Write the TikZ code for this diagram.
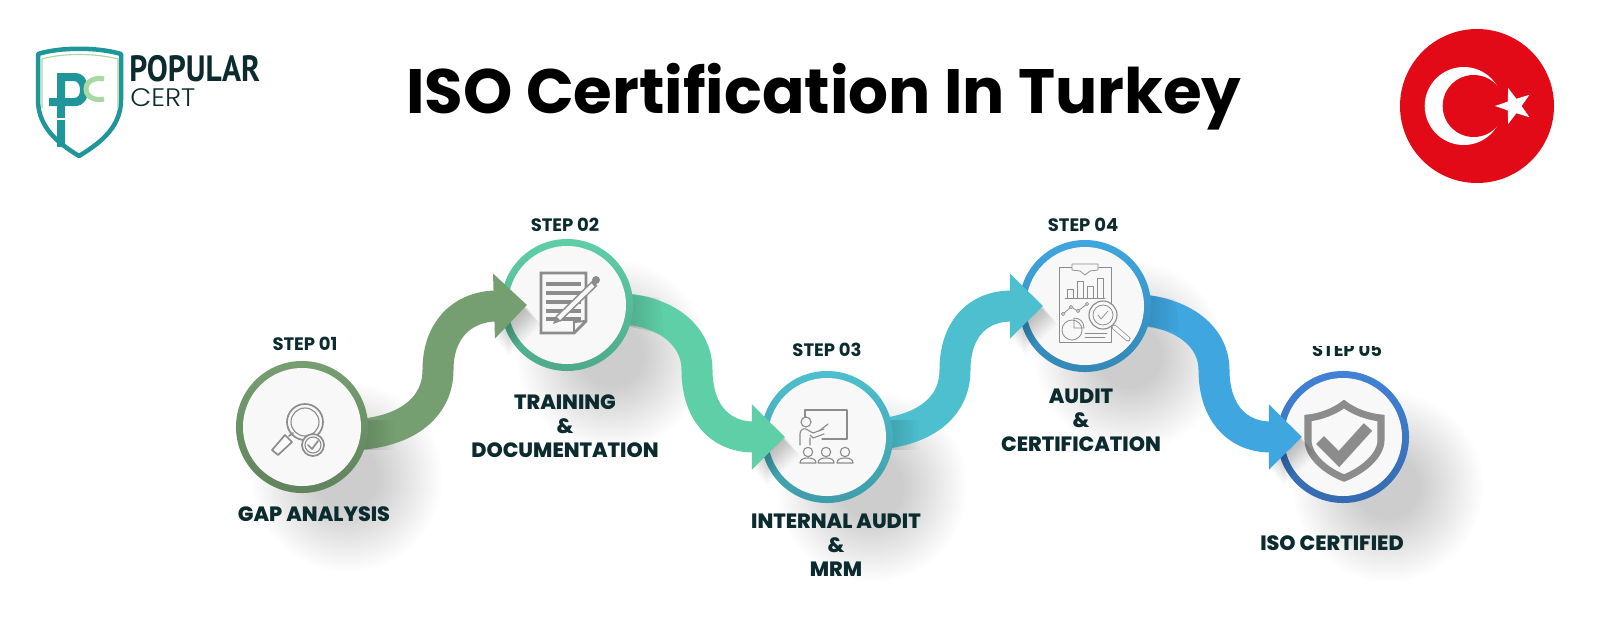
\documentclass[tikz,border=0pt]{standalone}
\usepackage{fontspec}
\setmainfont{Poppins}
\newfontfamily\logofont{PT Sans}
\newfontfamily\heavyfont{Poppins ExtraBold}
\newfontfamily\lightfont{Poppins Light}
\usetikzlibrary{arrows.meta,shapes.geometric,fadings}
\definecolor{inkdark}{HTML}{0B2B2E}
\definecolor{iconcol}{HTML}{8C8C8C}
\definecolor{facecol}{HTML}{F8F8F8}
\definecolor{stepa}{HTML}{769F71}
\definecolor{stepb}{HTML}{5FCFA8}
\definecolor{stepc}{HTML}{4DBFCE}
\definecolor{stepd}{HTML}{3FA6DF}
\definecolor{stepe}{HTML}{4182D6}
\definecolor{logoteal}{HTML}{1F979A}
\definecolor{logogreen}{HTML}{A9D8A2}
\definecolor{flagred}{HTML}{E30A17}
\tikzset{
  ringnode/.style={circle,minimum size=3.3cm,inner sep=0pt,top color=#1,bottom color=#1!82!black},
  band/.style={draw=#1,line width=.775cm,-{Triangle[length=.825cm,width=1.575cm,fill=#1]}},
  steplabel/.style={font=\fontsize{12.8}{15}\selectfont\bfseries,text=inkdark},
  textlabel/.style={font=\fontsize{14.7}{17}\heavyfont\selectfont,text=inkdark,align=center},
  icon/.style={draw=iconcol,line width=.8pt,line cap=round,line join=round},
  thinicon/.style={icon,line width=.55pt},
}
\newcommand{\dropshadow}[1]{
  \foreach \i in {1,...,25}{
    \fill[black,opacity=.007] ([shift={(45,50)}]#1) circle (30+\i*2.6);
  }
}
\newcommand{\headshadow}[2]{
  \foreach \i in {1,...,12}{
    \fill[black,opacity=.018,shift={(\i*1.2,\i*1.5)}] (#1,#2) -- (#1-33,#2-31) -- (#1-33,#2+31) -- cycle;
  }
}
\begin{document}
\begin{tikzpicture}[x=.025cm,y=-.025cm]
  \useasboundingbox (0,0) rectangle (1600,640);
  \fill[white] (0,0) rectangle (1600,640);

  \coordinate (c1) at (302,427);
  \coordinate (c2) at (567,305);
  \coordinate (c3) at (827,437);
  \coordinate (c4) at (1085,306);
  \coordinate (c5) at (1343,437);
  \dropshadow{c1}
  \dropshadow{c2}
  \dropshadow{c3}
  \dropshadow{c4}
  \dropshadow{c5}

  \draw[logoteal,line width=3.2pt,line join=round] (38,54) .. controls (60,47) and (98,47) .. (121,54) -- (121,100)
    .. controls (121,130) and (95,146) .. (79,156) .. controls (63,146) and (38,130) .. (38,100) -- cycle;
  \draw[logogreen,line width=.8pt] (42,108) -- (42,59) .. controls (62,53) and (96,53) .. (118,59) -- (118,108);
  \fill[logoteal,even odd rule] (57,73) -- (75,73) .. controls (84,73) and (88,81) .. (88,90) .. controls (88,99) and (84,106) .. (75,106)
    -- (49,106) -- (49,98) -- (57,98) -- cycle
    (65,81) -- (74,81) .. controls (78,81) and (80,85) .. (80,90) .. controls (80,95) and (78,98) .. (74,98) -- (65,98) -- cycle;
  \fill[logoteal] (57.3,106) rectangle (65.3,118);
  \fill[logoteal] (57.3,120) rectangle (65.3,147);
  \draw[logogreen,line width=3.6pt] (104,79) .. controls (97,77) and (86,80) .. (86,89) .. controls (86,98) and (97,101) .. (104,99);
  \node[font=\logofont\fontsize{26}{26}\selectfont\bfseries,text=inkdark,anchor=west,inner sep=0pt] (logotop) at (129,69) {\scalebox{.86}[1]{POPULAR}};
  \node[font=\lightfont\fontsize{18}{18}\selectfont,text=inkdark,anchor=west,inner sep=0pt] (logobot) at (130,98) {\scalebox{1.08}[1]{CERT}};

  \node[font=\fontsize{44.6}{50}\selectfont\bfseries,text=black] (title) at (824,97) {ISO Certification In Turkey};

  \fill[flagred] (1477,106) circle (77);
  \fill[white] (1463.7,106) circle (39);
  \fill[flagred] (1473.7,106) circle (31);
  \node[star,star points=5,star point ratio=2.5,fill=white,rotate=90,minimum size=.95cm,inner sep=0pt] (flagstar) at (1514,106) {};

  \node[ringnode=stepe] (s5) at (c5) {};
  \fill[facecol] (s5) circle (59);
  \begin{scope}[shift={(c5)}]
    \draw[iconcol,line width=5pt,line join=miter] (1,-33) .. controls (-9,-25) and (-24,-20) .. (-35,-19) -- (-35,3)
      .. controls (-35,20) and (-15,35) .. (1,41) .. controls (17,35) and (38,20) .. (38,3) -- (38,-19) .. controls (26,-20) and (11,-25) .. (1,-33) -- cycle;
    \draw[iconcol,line width=8pt] (-23,3) -- (-4,22) -- (25,-10);
  \end{scope}
  \coordinate (a4) at (1125,309);
  \headshadow{1302}{437}
  \draw[band=stepd] (a4) .. controls (1180,309) and (1214,335) .. (1214,370) .. controls (1214,410) and (1235,437) .. ([xshift=-1.025cm]s5.center);
  \fill[black,opacity=.22,path fading=east] (1130,293) -- (1175,299) -- (1180,333) -- (1130,324) -- cycle;

  \node[ringnode=stepd] (s4) at (c4) {};
  \fill[facecol] (s4) circle (59);
  \begin{scope}[shift={(c4)}]
    \draw[thinicon] (-26,-39) rectangle (26,36);
    \draw[thinicon,fill=facecol] (-13,-42) -- (13,-42) -- (13,-36) -- (5,-35) -- (0,-31) -- (-5,-35) -- (-13,-36) -- cycle;
    \draw[thinicon] (-20,-8) -- (20,-8);
    \draw[thinicon] (-18,-8) -- (-18,-17) -- (-12,-17) -- (-12,-8) (-8,-8) -- (-8,-25) -- (-2,-25) -- (-2,-8)
      (2,-8) -- (2,-20) -- (8,-20) -- (8,-8) (12,-8) -- (12,-28) -- (18,-28) -- (18,-8);
    \draw[thinicon] (-22,8) -- (-14,1) -- (-7,5) -- (2,-2);
    \foreach \p in {(-22,8),(-14,1),(-7,5),(2,-2)}
      \draw[thinicon,fill=facecol] \p circle (1.6);
    \draw[thinicon] (-13,24) circle (10);
    \draw[thinicon] (-11,12) -- (-11,22) -- (-1,22) .. controls (-1,16) and (-5,12) .. (-11,12);
    \draw[thinicon] (0,27) -- (22,27) (0,31) -- (20,31);
    \draw[icon,line width=3.6pt] (29,21) -- (43,33);
    \draw[facecol,line width=2.6pt,line cap=round] (29,21) -- (43,33);
    \draw[icon,fill=facecol] (18,9) circle (14);
    \draw[thinicon] (18,9) circle (10);
    \draw[thinicon] (13,9) -- (16,13) -- (23,5);
  \end{scope}
  \coordinate (a3) at (860,435);
  \headshadow{1043}{306}
  \draw[band=stepc] (a3) .. controls (920,435) and (955,410) .. (955,370) .. controls (955,332) and (975,306) .. ([xshift=-1.05cm]s4.center);
  \fill[black,opacity=.22,path fading=east] (875,419.5) rectangle (920,450);

  \node[ringnode=stepc] (s3) at (c3) {};
  \fill[facecol] (s3) circle (59);
  \begin{scope}[shift={(c3)}]
    \draw[icon] (-22,-20) -- (-22,-27) -- (20,-27) -- (20,2) -- (-5,2);
    \draw[icon] (-21,-15) circle (5);
    \draw[icon] (-27,8) -- (-27,-3) .. controls (-27,-7) and (-24,-9) .. (-21,-8) -- (-14,-4) -- (-3,-8) (-3,-3) -- (-14,1) -- (-17,-2) (-17,1) -- (-17,8);
    \draw[icon] (-8,-6) -- (1,-13);
    \foreach \q in {-19,-1,18}{
      \draw[icon] (\q,15) circle (4.7);
      \draw[icon] (\q-8,26) .. controls (\q-8,22) and (\q-4,21) .. (\q,21) .. controls (\q+4,21) and (\q+8,22) .. (\q+8,26) -- cycle;
    }
  \end{scope}
  \coordinate (a2) at (610,308);
  \headshadow{785}{437}
  \draw[band=stepb] (a2) .. controls (665,308) and (697,335) .. (697,370) .. controls (697,410) and (718,437) .. ([xshift=-1.05cm]s3.center);
  \fill[black,opacity=.22,path fading=east] (615,293) -- (660,298) -- (665,335) -- (615,323) -- cycle;

  \node[ringnode=stepb] (s2) at (c2) {};
  \fill[facecol] (s2) circle (59);
  \begin{scope}[shift={(c2)}]
    \draw[iconcol,line width=2pt,line join=miter] (-26,-32) -- (19,-32) -- (19,16) -- (7,28) -- (-26,28) -- cycle;
    \draw[iconcol,line width=1.4pt] (7,28) -- (7,17) -- (19,16);
    \foreach \r in {-21,-12,-3,6,14}
      \draw[iconcol,line width=2.4pt] (-21,\r) -- (14,\r);
    \draw[iconcol,line width=5.2pt] (-9,14) -- (28,-22);
    \draw[facecol,line width=3pt] (-9,14) -- (26,-20);
    \fill[iconcol] (-14,19) -- (-11,11) -- (-6,16) -- cycle;
    \fill[iconcol] (29,-25) circle (4);
  \end{scope}
  \coordinate (a1) at (345,435);
  \headshadow{527}{307}
  \draw[band=stepa] (a1) .. controls (405,435) and (438,408) .. (438,370) .. controls (438,332) and (460,307) .. ([xshift=-1cm]s2.center);
  \fill[black,opacity=.22,path fading=east] (350,419.5) rectangle (395,450);

  \node[ringnode=stepa] (s1) at (c1) {};
  \fill[facecol] (s1) circle (59);
  \begin{scope}[shift={(c1)}]
    \draw[icon,line width=1.2pt] (3,-5) circle (18);
    \draw[icon] (3,-5) circle (14);
    \draw[icon,line width=1.2pt] (-13,9) -- (-9,6);
    \draw[icon,line width=1.2pt] (-30,23) -- (-24,28) -- (-10,15) -- (-17,8) -- cycle;
    \draw[icon,line width=1.2pt,fill=facecol] (11,18) circle (11);
    \draw[icon] (11,18) circle (8);
    \draw[icon,line width=1.2pt] (6,18) -- (10,22) -- (16,14);
  \end{scope}

  \node[steplabel] (top1) at (305,344) {STEP 01};
  \node[steplabel] (top2) at (565,225) {STEP 02};
  \node[steplabel] (top3) at (827,350) {STEP 03};
  \node[steplabel] (top4) at (1083,225) {STEP 04};
  \begin{scope}
    \clip (1280,346) rectangle (1420,370);
    \node[steplabel] (top5) at (1347,350) {STEP 05};
  \end{scope}
  \node[textlabel] (name1) at (314,514) {GAP ANALYSIS};
  \node[textlabel] (name2) at (565,426) {TRAINING\\\&\\DOCUMENTATION};
  \node[textlabel] (name3) at (836,545) {INTERNAL AUDIT\\\&\\MRM};
  \node[textlabel] (name4) at (1081,420) {AUDIT\\\&\\CERTIFICATION};
  \node[textlabel] (name5) at (1332,543) {ISO CERTIFIED};
\end{tikzpicture}
\end{document}
